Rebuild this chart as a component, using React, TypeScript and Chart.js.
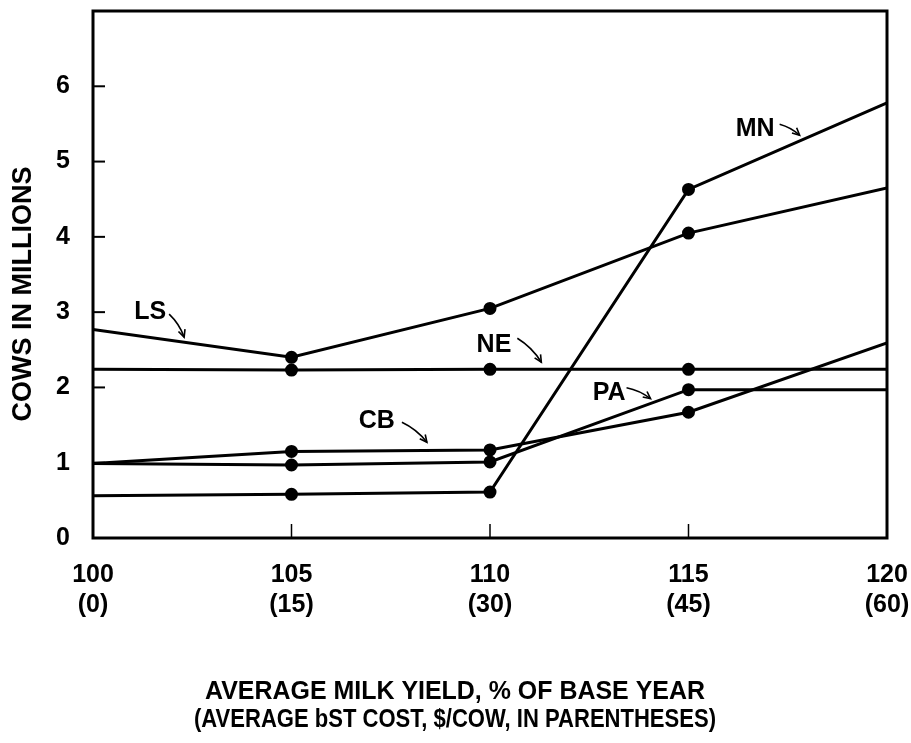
import React, { useEffect, useRef } from 'react';
import { Chart, registerables } from 'chart.js';

Chart.register(...registerables);

// X categories: average milk yield (% of base year) and bST cost ($/cow)
const yieldPct = [100, 105, 110, 115, 120];
const bstCost = [0, 15, 30, 45, 60];

// Cows in millions, by region
const seriesNames = ['MN', 'LS', 'NE', 'CB', 'PA'];
const mnValues = [0.56, 0.58, 0.61, 4.63, 5.78];
const lsValues = [2.77, 2.4, 3.05, 4.05, 4.65];
const neValues = [2.24, 2.23, 2.24, 2.24, 2.24];
const cbValues = [0.99, 1.15, 1.17, 1.67, 2.59];
const paValues = [0.99, 0.97, 1.01, 1.97, 1.97];

// Y tick values
const yTickValues = [0, 1, 2, 3, 4, 5, 6];

// Axis titles
const xTitleLines = ['AVERAGE MILK YIELD, % OF BASE YEAR', '(AVERAGE bST COST, $/COW, IN PARENTHESES)'];
const yTitle = 'COWS IN MILLIONS';

// Series label annotations (data coordinates)
const labelText = ['MN', 'LS', 'NE', 'CB', 'PA'];
const labelX = [116.68, 101.44, 110.1, 107.15, 113.0];
const labelY = [5.43, 3.0, 2.56, 1.55, 1.93];

const FONT = '"Liberation Sans", Arial, Helvetica, sans-serif';

// arrow styling per label: start offset from label right/center, end offset
const arrowStyle = [
  { sx: 5, sy: -5, ex: 25, ey: 6 },
  { sx: 3, sy: 2, ex: 18, ey: 25 },
  { sx: 6, sy: -7, ex: 30, ey: 17 },
  { sx: 7, sy: 1, ex: 32, ey: 21 },
  { sx: 1, sy: -5, ex: 25, ey: 6 },
];

const toPoints = (vals: number[]) => vals.map((v, i) => ({ x: yieldPct[i], y: v }));

const decorPlugin = {
  id: 'decor',
  afterDraw(chart: any) {
    const { ctx, chartArea } = chart;
    const xs = chart.scales.x;
    const ys = chart.scales.y;
    ctx.save();
    ctx.strokeStyle = '#000';
    ctx.fillStyle = '#000';
    // frame
    ctx.lineWidth = 3;
    ctx.strokeRect(chartArea.left, chartArea.top, chartArea.right - chartArea.left, chartArea.bottom - chartArea.top);
    // inward y ticks
    ctx.lineWidth = 2;
    yTickValues.forEach((v) => {
      if (v === 0) return;
      const py = ys.getPixelForValue(v);
      ctx.beginPath();
      ctx.moveTo(chartArea.left, py);
      ctx.lineTo(chartArea.left + 12, py);
      ctx.stroke();
    });
    // inward x ticks
    ctx.lineWidth = 1.5;
    yieldPct.forEach((v, i) => {
      if (i === 0 || i === yieldPct.length - 1) return;
      const px = xs.getPixelForValue(v);
      ctx.beginPath();
      ctx.moveTo(px, chartArea.bottom);
      ctx.lineTo(px, chartArea.bottom - 14);
      ctx.stroke();
    });
    // labels with arrows
    ctx.font = `bold 25px ${FONT}`;
    ctx.textAlign = 'center';
    ctx.textBaseline = 'middle';
    labelText.forEach((t, i) => {
      const px = xs.getPixelForValue(labelX[i]);
      const py = ys.getPixelForValue(labelY[i]);
      ctx.fillText(t, px, py);
      const w = ctx.measureText(t).width;
      const right = px + w / 2;
      const a = arrowStyle[i];
      const x0 = right + a.sx, y0 = py + a.sy, x1 = right + a.ex, y1 = py + a.ey;
      ctx.lineWidth = 1.6;
      ctx.beginPath();
      ctx.moveTo(x0, y0);
      const mx = (x0 + x1) / 2 + (y1 - y0) * 0.12;
      const my = (y0 + y1) / 2 - (x1 - x0) * 0.12;
      ctx.quadraticCurveTo(mx, my, x1, y1);
      ctx.stroke();
      const ang = Math.atan2(y1 - my, x1 - mx);
      const hl = 8;
      ctx.beginPath();
      ctx.moveTo(x1 - hl * Math.cos(ang - 0.45), y1 - hl * Math.sin(ang - 0.45));
      ctx.lineTo(x1, y1);
      ctx.lineTo(x1 - hl * Math.cos(ang + 0.45), y1 - hl * Math.sin(ang + 0.45));
      ctx.stroke();
    });
    // x-axis title (two lines)
    ctx.font = `bold 25px ${FONT}`;
    ctx.textAlign = 'center';
    ctx.textBaseline = 'middle';
    ctx.fillText(xTitleLines[0], 455, 692, 500);
    ctx.fillText(xTitleLines[1], 455, 720, 522);
    // y-axis title
    ctx.save();
    ctx.translate(24, 294);
    ctx.rotate(-Math.PI / 2);
    ctx.font = `bold 27px ${FONT}`;
    ctx.textAlign = 'center';
    ctx.textBaseline = 'middle';
    ctx.fillText(yTitle, 0, 0);
    ctx.restore();
    ctx.restore();
  },
};

export default function App() {
  const ref = useRef<HTMLCanvasElement | null>(null);
  useEffect(() => {
    if (!ref.current) return;
    const seriesValues = [mnValues, lsValues, neValues, cbValues, paValues];
    const chart = new Chart(ref.current, {
      type: 'line',
      data: {
        datasets: seriesNames.map((name, k) => ({
          label: name,
          data: toPoints(seriesValues[k]),
          borderColor: '#000',
          borderWidth: 3,
          backgroundColor: '#000',
          pointBackgroundColor: '#000',
          pointBorderColor: '#000',
          pointRadius: yieldPct.map((_, i) => (i === 0 || i === yieldPct.length - 1 ? 0 : 5)),
          pointHoverRadius: 0,
          tension: 0,
          fill: false,
        })),
      },
      options: {
        animation: false,
        responsive: true,
        maintainAspectRatio: false,
        events: [],
        layout: { padding: { top: 11, right: 24, left: 0, bottom: 0 } },
        plugins: {
          legend: { display: false },
          tooltip: { enabled: false },
          title: { display: false },
        },
        scales: {
          x: {
            type: 'linear',
            min: yieldPct[0],
            max: yieldPct[yieldPct.length - 1],
            afterBuildTicks: (scale: any) => {
              scale.ticks = yieldPct.map((v) => ({ value: v }));
            },
            afterFit: (scale: any) => {
              scale.height = 205;
              scale.paddingLeft = 0;
              scale.paddingRight = 0;
              scale.paddingTop = 0;
              scale.paddingBottom = 0;
            },
            grid: { display: false, drawTicks: false },
            border: { display: false },
            ticks: {
              color: '#000',
              padding: 22,
              maxRotation: 0,
              autoSkip: false,
              font: { family: FONT, size: 25, weight: 'bold', lineHeight: 1.2 },
              callback: (value: any) => {
                const i = yieldPct.indexOf(Number(value));
                return [String(value), `(${bstCost[i]})`];
              },
            },
          },
          y: {
            type: 'linear',
            min: 0,
            max: 7,
            afterBuildTicks: (scale: any) => {
              scale.ticks = yTickValues.map((v) => ({ value: v }));
            },
            afterFit: (scale: any) => {
              scale.width = 93;
              scale.paddingLeft = 0;
              scale.paddingRight = 0;
              scale.paddingTop = 0;
              scale.paddingBottom = 0;
            },
            grid: { display: false, drawTicks: false },
            border: { display: false },
            ticks: {
              color: '#000',
              padding: 23,
              font: { family: FONT, size: 25, weight: 'bold' },
            },
          },
        },
      },
      plugins: [decorPlugin],
    } as any);
    return () => chart.destroy();
  }, []);
  return (
    <div style={{ position: 'fixed', left: 0, top: 0, width: 911, height: 743, background: '#fff' }}>
      <canvas ref={ref} />
    </div>
  );
}
